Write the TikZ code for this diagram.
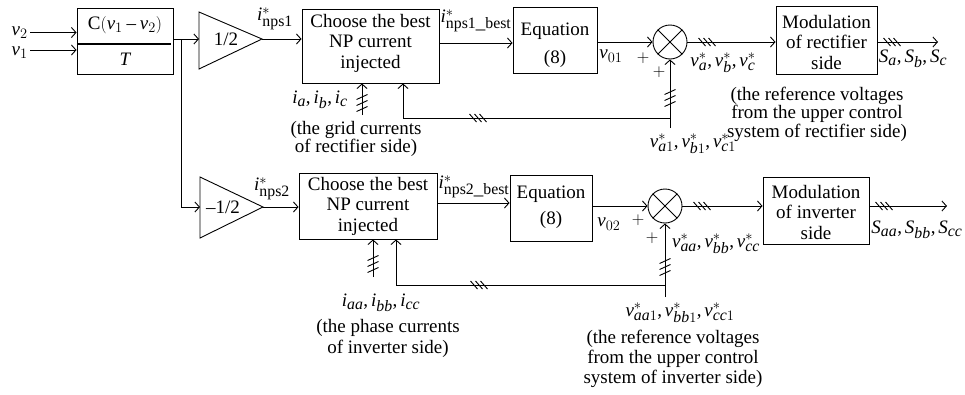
\documentclass[tikz,border=0pt]{standalone}
\usepackage{fontspec}
\setmainfont{Liberation Serif}
\usepackage[italic]{mathastext}
\usetikzlibrary{arrows.meta}
\newcommand\myfs{\fontsize{19}{20.5}\selectfont}
\begin{document}
\begin{tikzpicture}[x=1pt,y=-1pt,line width=0.9pt,
  blk/.style={draw,inner sep=0pt,align=center,font=\myfs},
  lbl/.style={inner sep=0pt,font=\myfs,align=center},
  arr/.style={-{Straight Barb[length=4.5pt,width=10pt]}},
  hsl/.pic={\foreach \d in {-5,0,5}{\draw[line width=0.9pt] (\d-3.5,-4) -- (\d+3.5,4);}},
  vsl/.pic={\foreach \d in {-6,0,6}{\draw[line width=0.9pt] (-5.5,\d+2.5) -- (5.5,\d-2.5);}},
]
\useasboundingbox (0,0) rectangle (965,394);

% ---------- top row ----------
\node[lbl,anchor=base east] (v2) at (28,35.5) {$v_2$};
\node[lbl,anchor=base east] (v1) at (28,55) {$v_1$};
\node[blk,minimum width=96pt,minimum height=66pt] (cb) at (125,41) {};
\node[lbl] (cnum) at (125,25) {$\mathrm{C}(v_1 - v_2)$};
\node[lbl] (cden) at (125,59) {$T$};
\draw[line width=1.8pt] ([xshift=1pt,yshift=-3pt]cb.west) -- ([xshift=-2pt,yshift=-3pt]cb.east);
\coordinate (a2) at ([xshift=2pt,yshift=3pt]v2.base east);
\coordinate (a1) at ([xshift=2pt,yshift=5pt]v1.base east);
\draw[arr] (a2) -- (cb.west |- a2);
\draw[arr] (a1) -- (cb.west |- a1);

\coordinate (t1in) at (199,39);
\coordinate (t1out) at (262,39);
\draw (199,12) -- (199,69) -- (t1out) -- cycle;
\node[lbl] (t1txt) at (226,39) {1/2};
\coordinate (br) at (181,39);
\draw[arr] (cb.east |- t1in) -- (t1in);

\node[blk,minimum width=137pt,minimum height=74pt] (ch1) at (370.5,46) {};
\node[lbl] (ch1t) at (370.5,43) {Choose the best\\NP current\\injected};
\draw[arr] (t1out) -- (ch1.west |- t1out);
\node[lbl] (lnps1) at (275,19) {$i^*_{\mathrm{nps1}}$};

\node[blk,minimum width=84pt,minimum height=66pt] (eq1) at (555,40) {};
\node[lbl] (eq1t) at (555,45) {Equation\\[7pt](8)};
\coordinate (e1in) at (439,43);
\draw[arr] (e1in) -- (eq1.west |- e1in);
\node[lbl] (lnpsb1) at (476,21) {$i^*_{\mathrm{nps1\_best}}$};

\node[draw,circle,minimum size=34pt,inner sep=0pt] (s1) at (670,42) {};
\draw (s1.north west) -- (s1.south east) (s1.south west) -- (s1.north east);
\draw[arr] (eq1.east |- s1.west) -- (s1.west);
\node[lbl] (lv01) at (611,56) {$v_{01}$};
\node[lbl] (p1a) at (643,58) {$+$};
\node[lbl] (p1b) at (659,72) {$+$};

\node[blk,minimum width=101pt,minimum height=68pt] (mod1) at (826.5,40) {};
\node[lbl] (mod1t) at (826.5,42) {Modulation\\of rectifier\\side};
\draw[arr] (s1.east) -- (mod1.west |- s1.east);
\pic at (707,42) {hsl};
\node[lbl] (lvabc) at (723,63) {$v^*_a, v^*_b, v^*_c$};

\coordinate (o1) at (938,42);
\draw[arr] (mod1.east |- o1) -- (o1);
\pic at (892,42) {hsl};
\node[lbl] (lS1) at (913,59) {$S_a, S_b, S_c$};
\node[lbl,font=\fontsize{19}{17}\selectfont] (ref1) at (817,114) {(the reference voltages\\from the upper control\\system of rectifier side)};

\coordinate (vb1) at (670,128);
\coordinate (j1) at (670,118);
\coordinate (f1) at (403,118);
\draw[arr] (vb1) -- (s1.south);
\pic at (670,98) {vsl};
\draw[arr] (j1) -- (f1) -- (f1 |- ch1.south);
\pic at (478,118) {hsl};
\node[lbl] (lvabc1) at (693,144) {$v^*_{a1}, v^*_{b1}, v^*_{c1}$};

\coordinate (ia1) at (362,115);
\draw[arr] (ia1) -- (ia1 |- ch1.south);
\pic at (362,103) {vsl};
\node[lbl] (liabc) at (320,100) {$i_a, i_b, i_c$};
\node[lbl,font=\fontsize{19}{18}\selectfont] (grid) at (356,139) {(the grid currents\\of rectifier side)};

% ---------- bottom row ----------
\coordinate (t2in) at (200,207);
\coordinate (t2out) at (263,207);
\draw (200,177) -- (200,238) -- (t2out) -- cycle;
\node[lbl] (t2txt) at (223,207) {$-$1/2};
\draw[arr] (br) |- (t2in);

\node[blk,minimum width=138pt,minimum height=66pt] (ch2) at (368,206) {};
\node[lbl] (ch2t) at (368,206) {Choose the best\\NP current\\injected};
\draw[arr] (t2out) -- (ch2.west |- t2out);
\node[lbl] (lnps2) at (272,189) {$i^*_{\mathrm{nps2}}$};

\node[blk,minimum width=82pt,minimum height=66pt] (eq2) at (551,208) {};
\node[lbl] (eq2t) at (551,207) {Equation\\[6pt](8)};
\coordinate (e2in) at (437,203);
\draw[arr] (e2in) -- (eq2.west |- e2in);
\node[lbl] (lnpsb2) at (474,187) {$i^*_{\mathrm{nps2\_best}}$};

\node[draw,circle,minimum size=34pt,inner sep=0pt] (s2) at (665,206) {};
\draw (s2.north west) -- (s2.south east) (s2.south west) -- (s2.north east);
\draw[arr] (eq2.east |- s2.west) -- (s2.west);
\node[lbl] (lv02) at (609,224) {$v_{02}$};
\node[lbl] (p2a) at (638,220) {$+$};
\node[lbl] (p2b) at (652,238) {$+$};

\node[blk,minimum width=106pt,minimum height=67pt] (mod2) at (816,210.5) {};
\node[lbl] (mod2t) at (816,212) {Modulation\\of inverter\\side};
\draw[arr] (s2.east) -- (mod2.west |- s2.east);
\pic at (702,206) {hsl};
\node[lbl] (lvaa) at (716,244) {$v^*_{aa}, v^*_{bb}, v^*_{cc}$};

\coordinate (o2) at (947,206);
\draw[arr] (mod2.east |- o2) -- (o2);
\pic at (884,206) {hsl};
\node[lbl,anchor=west] (lS2) at (871,230) {$S_{aa}, S_{bb}, S_{cc}$};

\coordinate (vb2) at (665,297);
\coordinate (j2) at (665,285);
\coordinate (f2) at (396,285);
\draw[arr] (vb2) -- (s2.south);
\pic at (665,267) {vsl};
\draw[arr] (j2) -- (f2) -- (f2 |- ch2.south);
\pic at (479,285) {hsl};
\node[lbl] (lvaa1) at (680,313) {$v^*_{aa1}, v^*_{bb1}, v^*_{cc1}$};
\node[lbl,font=\fontsize{19}{20}\selectfont] (ref2) at (673,359) {(the reference voltages\\from the upper control\\system of inverter side)};

\coordinate (ia2) at (373,277);
\draw[arr] (ia2) -- (ia2 |- ch2.south);
\pic at (373,264) {vsl};
\node[lbl] (liaa) at (381,303) {$i_{aa}, i_{bb}, i_{cc}$};
\node[lbl,font=\fontsize{19}{21}\selectfont] (phase) at (388,338) {(the phase currents\\of inverter side)};
\end{tikzpicture}
\end{document}
